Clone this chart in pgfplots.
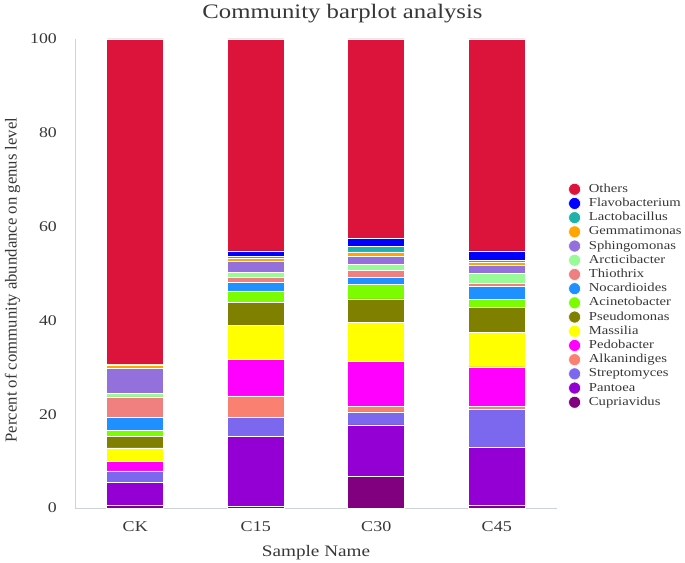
\documentclass[border=0pt]{standalone}
\usepackage{pgfplots}
\usepackage{pgfplotstable}
\pgfplotsset{compat=1.18}
\usepackage{fontspec}
\setmainfont{Liberation Serif}
\newfontfamily\hfont[FakeStretch=1.2]{Liberation Serif}
\definecolor{cOthers}{RGB}{220,20,60}
\definecolor{cFla}{RGB}{0,0,255}
\definecolor{cLac}{RGB}{32,178,170}
\definecolor{cGem}{RGB}{255,165,0}
\definecolor{cSph}{RGB}{147,112,219}
\definecolor{cArc}{RGB}{152,251,152}
\definecolor{cThi}{RGB}{240,128,128}
\definecolor{cNoc}{RGB}{30,144,255}
\definecolor{cAci}{RGB}{124,252,0}
\definecolor{cPse}{RGB}{128,128,0}
\definecolor{cMas}{RGB}{255,255,0}
\definecolor{cPed}{RGB}{255,0,255}
\definecolor{cAlk}{RGB}{250,128,114}
\definecolor{cStr}{RGB}{123,104,238}
\definecolor{cPan}{RGB}{148,0,211}
\definecolor{cCup}{RGB}{128,0,128}
\definecolor{axgray}{RGB}{205,210,222}
\definecolor{txtgray}{RGB}{55,55,55}
\pgfplotstableread{
x Cup Pan Str Alk Ped Mas Pse Aci Noc Thi Arc Sph Gem Lac Fla Oth
0 0.5 4.9 2.4 0.1 2.1 2.8 2.4 1.4 2.8 4.3 0.7 5.3 0.8 0.1 0.1 69.3
1 0.3 14.9 4.1 4.6 7.7 7.3 5.0 2.4 1.8 1.0 1.2 2.2 0.8 0.3 1.2 45.2
2 6.7 11.0 2.8 1.1 9.7 8.2 5.1 3.1 1.4 1.5 1.3 1.7 1.0 1.1 1.8 42.5
3 0.6 12.3 8.2 0.5 8.5 7.3 5.3 1.8 2.7 0.7 2.1 1.7 0.6 0.5 2.0 45.2
}\data
\begin{document}
\begin{tikzpicture}
\begin{axis}[
  name=ax,
  scale only axis,
  width=482pt, height=469pt,
  ybar stacked,
  bar width=0.473,
  xmin=-0.5, xmax=3.5,
  ymin=0, ymax=100,
  xtick={0,1,2,3},
  xticklabels={CK,C15,C30,C45},
  ytick={0,20,40,60,80,100},
  axis x line*=bottom,
  axis y line*=left,
  axis line style={axgray, line width=0.8pt},
  major tick length=0pt,
  tick style={draw=none},
  clip=false,
  /pgf/number format/assume math mode=true,
  yticklabel style={font=\hfont\fontsize{14.8}{17}\selectfont, text=txtgray, anchor=east, inner sep=0pt, xshift=-18pt},
  xticklabel style={font=\hfont\fontsize{15}{17}\selectfont, text=txtgray, anchor=base, inner sep=0pt, yshift=-23.7pt},
  xlabel={Sample Name},
  ylabel={Percent of community abundance on genus level},
  xlabel style={font=\hfont\fontsize{16}{18}\selectfont, text=txtgray, at={(axis description cs:0.5,0)}, anchor=base, inner sep=0pt, yshift=-48.7pt},
  ylabel style={font=\fontsize{16.7}{18}\selectfont, text=txtgray, at={(axis description cs:-0.1297,0.486)}, anchor=center, inner sep=0pt},
  title={Community barplot analysis},
  title style={font=\hfont\fontsize{20.6}{24}\selectfont, text=txtgray, at={(axis description cs:0.5,1)}, anchor=base, inner sep=0pt, xshift=26.5pt, yshift=14pt},
  every axis plot/.append style={draw=white, line width=0.6pt},
  legend style={at={(rel axis cs:1.0235,0.6935)}, anchor=north west, draw=none, fill=none,
    inner sep=0pt, outer sep=0pt,
    font=\hfont\fontsize{12.2}{13}\selectfont, text=txtgray, row sep=1.2pt, column sep=7pt,
    nodes={inner sep=1pt, text height=8.5pt, text depth=2.5pt}},
  legend cell align=left,
  reverse legend,
  legend image code/.code={\fill[#1] (6pt,0pt) circle[radius=6pt];},
]
\addplot[fill=cCup] table[x=x,y=Cup]{\data};
\addplot[fill=cPan] table[x=x,y=Pan]{\data};
\addplot[fill=cStr] table[x=x,y=Str]{\data};
\addplot[fill=cAlk] table[x=x,y=Alk]{\data};
\addplot[fill=cPed] table[x=x,y=Ped]{\data};
\addplot[fill=cMas] table[x=x,y=Mas]{\data};
\addplot[fill=cPse] table[x=x,y=Pse]{\data};
\addplot[fill=cAci] table[x=x,y=Aci]{\data};
\addplot[fill=cNoc] table[x=x,y=Noc]{\data};
\addplot[fill=cThi] table[x=x,y=Thi]{\data};
\addplot[fill=cArc] table[x=x,y=Arc]{\data};
\addplot[fill=cSph] table[x=x,y=Sph]{\data};
\addplot[fill=cGem] table[x=x,y=Gem]{\data};
\addplot[fill=cLac] table[x=x,y=Lac]{\data};
\addplot[fill=cFla] table[x=x,y=Fla]{\data};
\addplot[fill=cOthers] table[x=x,y=Oth]{\data};
\legend{Cupriavidus,Pantoea,Streptomyces,Alkanindiges,Pedobacter,Massilia,Pseudomonas,Acinetobacter,Nocardioides,Thiothrix,Arcticibacter,Sphingomonas,Gemmatimonas,Lactobacillus,Flavobacterium,Others}
\end{axis}
\pgfresetboundingbox
\useasboundingbox ([xshift=-75pt,yshift=-54pt]ax.south west) rectangle ([xshift=128pt,yshift=39pt]ax.north east);
\end{tikzpicture}
\end{document}
